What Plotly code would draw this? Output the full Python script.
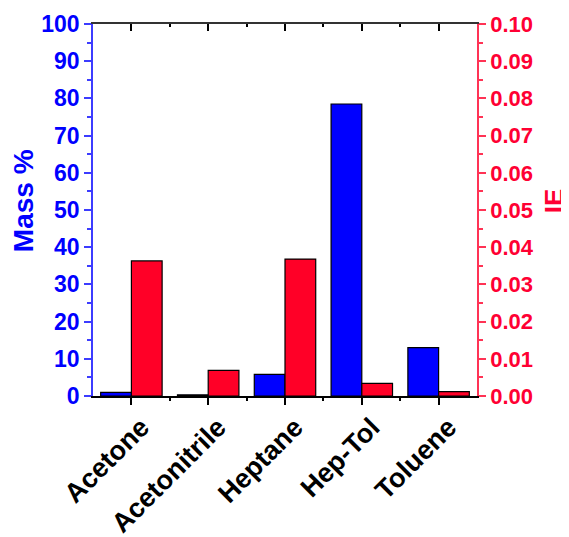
import plotly.graph_objects as go

categories = ["Acetone", "Acetonitrile", "Heptane", "Hep-Tol", "Toluene"]
mass_pct = [1.0, 0.3, 5.8, 78.5, 13.0]
ie_values = [0.0363, 0.0069, 0.0368, 0.0034, 0.0012]
mass_ticks = list(range(0, 101, 10))
ie_ticks = [i / 100 for i in range(0, 11)]

xs = list(range(len(categories)))
minor_x = [i + 0.5 for i in range(len(categories) - 1)]

BLUE = "#0000FF"
RED = "#FF0027"
BLUE_AX = "#3C3CFF"
RED_AX = "#FF3355"
FONT = "Liberation Sans, Arial, sans-serif"

fig = go.Figure()
fig.add_trace(go.Bar(
    x=xs, y=mass_pct, width=0.4, offset=-0.4,
    marker=dict(color=BLUE, line=dict(color="black", width=1.2)),
    name="Mass %", showlegend=False, yaxis="y", xaxis="x",
))
fig.add_trace(go.Bar(
    x=xs, y=ie_values, width=0.4, offset=0.0,
    marker=dict(color=RED, line=dict(color="black", width=1.2)),
    name="IE", showlegend=False, yaxis="y2", xaxis="x",
))
fig.add_trace(go.Scatter(
    x=xs, y=[None] * len(xs), xaxis="x2", yaxis="y",
    showlegend=False, hoverinfo="skip", mode="markers",
))

fig.update_layout(
    width=561, height=529,
    margin=dict(l=85, r=92, t=16, b=141, autoexpand=False),
    paper_bgcolor="white", plot_bgcolor="white",
    barmode="overlay",
    font=dict(family=FONT),
    xaxis=dict(
        range=[-0.5, 4.5], tickvals=xs, ticktext=categories, tickangle=-45,
        ticks="outside", ticklen=7, tickwidth=1.5, tickcolor="black",
        minor=dict(tickvals=minor_x, ticks="outside", ticklen=3, tickwidth=1.5, tickcolor="black"),
        showline=True, linecolor="black", linewidth=1.5,
        showgrid=False, zeroline=False, automargin=False,
        ticklabelshift=10, ticklabelstandoff=-4,
        tickfont=dict(family=FONT, size=27, color="black", weight="bold"),
    ),
    xaxis2=dict(
        range=[-0.5, 4.5], overlaying="x", side="top", anchor="y",
        tickvals=xs, showticklabels=False,
        ticks="inside", ticklen=7, tickwidth=1.5, tickcolor="black",
        minor=dict(tickvals=minor_x, ticks="inside", ticklen=3, tickwidth=1.5, tickcolor="black"),
        showline=True, linecolor="#333333", linewidth=1.5,
        showgrid=False, zeroline=False, automargin=False,
    ),
    yaxis=dict(
        range=[0, 100], tickvals=mass_ticks,
        ticks="outside", ticklen=7, tickwidth=1.5, tickcolor=BLUE_AX,
        minor=dict(dtick=5, ticks="outside", ticklen=4, tickwidth=1.5, tickcolor=BLUE_AX),
        showline=True, linecolor=BLUE_AX, linewidth=1.5,
        showgrid=False, zeroline=False, automargin=False,
        tickfont=dict(family=FONT, size=23, color=BLUE, weight="bold"),
    ),
    yaxis2=dict(
        range=[0, 0.1], tickvals=ie_ticks, tickformat=".2f",
        overlaying="y", side="right", anchor="x",
        ticks="outside", ticklen=7, tickwidth=1.5, tickcolor=RED_AX,
        minor=dict(dtick=0.005, ticks="outside", ticklen=4, tickwidth=1.5, tickcolor=RED_AX),
        showline=True, linecolor=RED_AX, linewidth=1.5,
        showgrid=False, zeroline=False, automargin=False,
        tickfont=dict(family=FONT, size=22, color="#FF0033", weight="bold"),
    ),
    annotations=[
        dict(text="Mass %", xref="paper", yref="paper", x=-0.182, y=0.524,
             textangle=-90, showarrow=False, xanchor="center", yanchor="middle",
             font=dict(family=FONT, size=28, color=BLUE, weight="bold")),
        dict(text="IE", xref="paper", yref="paper", x=1.201, y=0.524,
             textangle=-90, showarrow=False, xanchor="center", yanchor="middle",
             font=dict(family=FONT, size=26, color="#FF0033", weight="bold")),
    ],
)

fig.write_html("out.html")
